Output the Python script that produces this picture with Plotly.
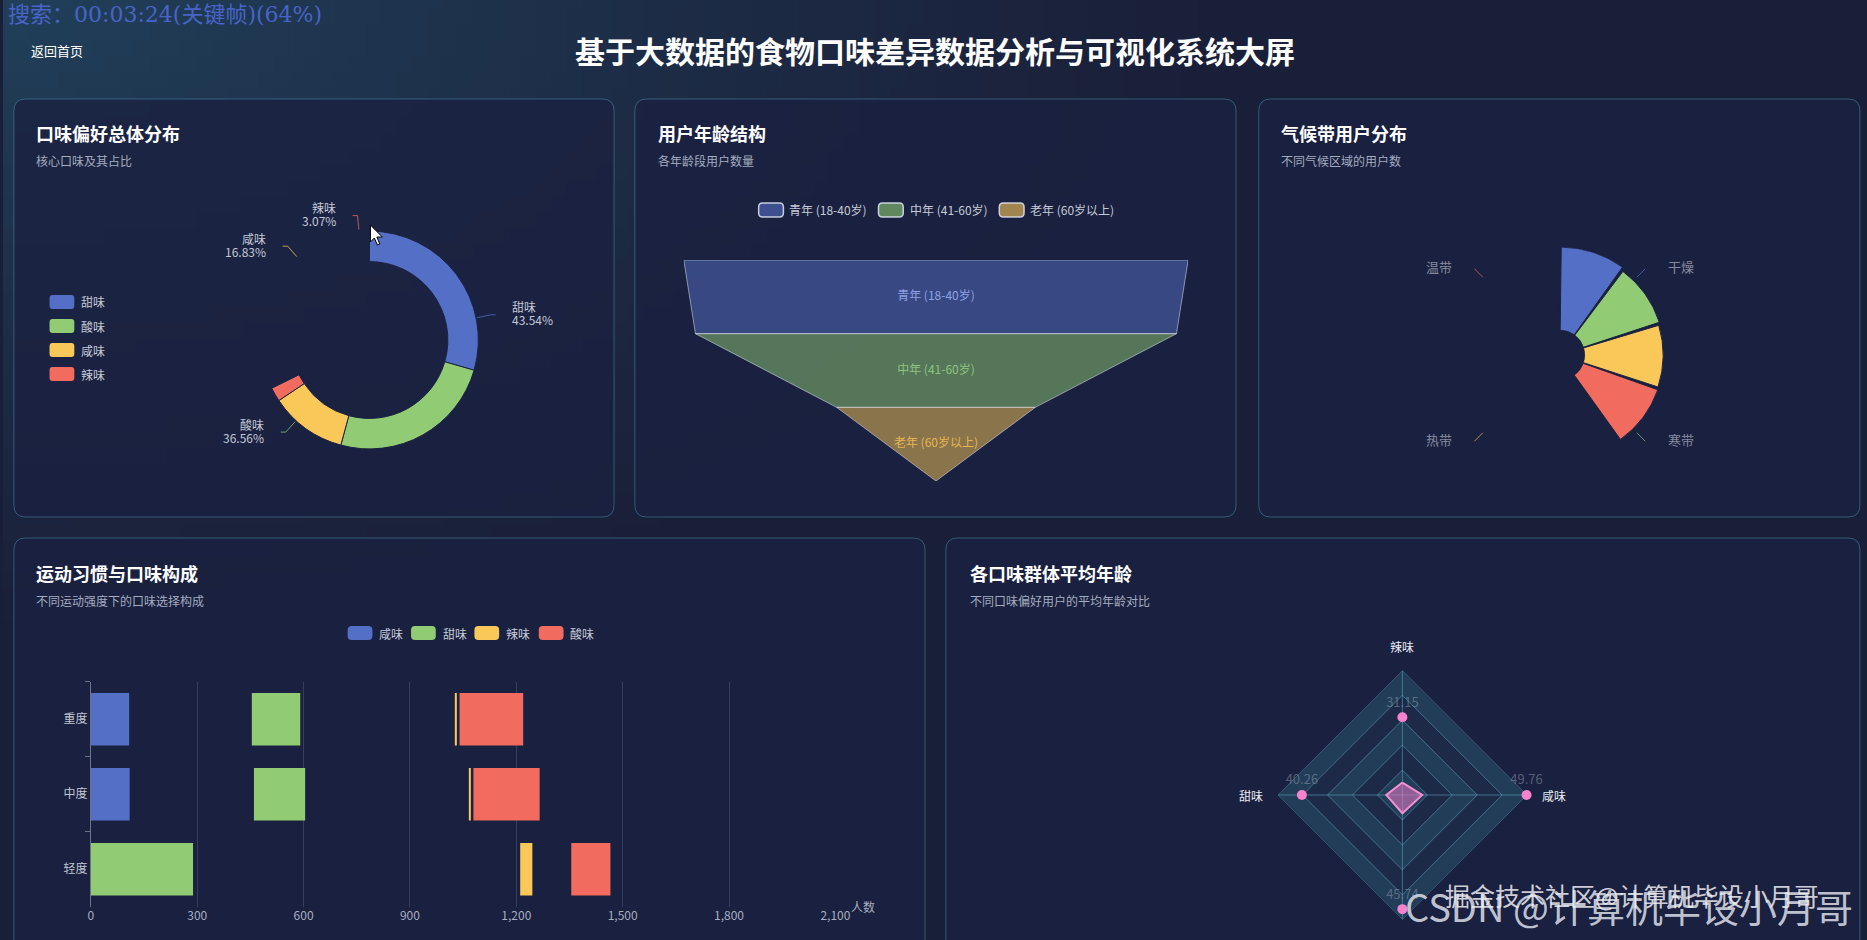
import math, base64, struct, zlib
import plotly.graph_objects as go

W, H = 1867, 940

# ---------------- data ----------------
taste_names = ["甜味", "酸味", "咸味", "辣味"]
taste_pct = [43.54, 36.56, 16.83, 3.07]
donut_anim = 0.677          # animation progress captured in the frame

age_groups = ["青年 (18-40岁)", "中年 (41-60岁)", "老年 (60岁以上)"]
age_users = [2333, 2225, 919]

climate_names = ["干燥", "寒带", "热带", "温带"]
climate_users = [1420, 1365, 1340, 1352]
climate_anim = 0.403

exercise_levels = ["轻度", "中度", "重度"]
bar_series = ["咸味", "甜味", "辣味", "酸味"]
salty_users = [0, 460, 454]
sweet_users = [1211, 607, 574]
spicy_users = [144, 12, 12]
sour_users = [464, 785, 754]
bar_anim = 0.238
bar_ticks = [0, 300, 600, 900, 1200, 1500, 1800, 2100]

radar_axes = ["辣味", "甜味", "酸味", "咸味"]
radar_ages = [31.15, 40.26, 45.74, 49.76]
radar_max = 50
radar_rings = [10, 20, 30, 40, 50]
radar_anim = 0.16

PALETTE = ["#5470c6", "#91cc75", "#fac858", "#f26b5f"]
FONT = "Noto Sans CJK SC"


def rgba(hx, a):
    hx = hx.lstrip("#")
    return "rgba(%d,%d,%d,%.3f)" % (int(hx[0:2], 16), int(hx[2:4], 16), int(hx[4:6], 16), a)


def X(x):
    return x / W


def Y(y):
    return 1 - y / H


def rrect_path(x0, y0, x1, y1, r):
    return (f"M{X(x0+r)},{Y(y0)} L{X(x1-r)},{Y(y0)} Q{X(x1)},{Y(y0)} {X(x1)},{Y(y0+r)} "
            f"L{X(x1)},{Y(y1-r)} Q{X(x1)},{Y(y1)} {X(x1-r)},{Y(y1)} L{X(x0+r)},{Y(y1)} "
            f"Q{X(x0)},{Y(y1)} {X(x0)},{Y(y1-r)} L{X(x0)},{Y(y0+r)} Q{X(x0)},{Y(y0)} {X(x0+r)},{Y(y0)} Z")


def poly_path(pts, close=False):
    s = "M" + " L".join(f"{X(a)},{Y(b)}" for a, b in pts)
    return s + (" Z" if close else "")


shapes, annotations = [], []


def ann(x, y, text, size=12, color="#c5cad6", xanchor="left", family=FONT, yanchor="middle"):
    annotations.append(dict(x=X(x), y=Y(y), xref="paper", yref="paper", text=text, showarrow=False,
                            xanchor=xanchor, yanchor=yanchor,
                            font=dict(size=size, color=color, family=family)))


# ---------------- background gradient image ----------------
def make_png(w, h, fn):
    raw = bytearray()
    for j in range(h):
        raw.append(0)
        for i in range(w):
            raw.extend(fn(i, j))
    def chunk(tag, data):
        return struct.pack(">I", len(data)) + tag + data + struct.pack(">I", zlib.crc32(tag + data) & 0xffffffff)
    return (b"\x89PNG\r\n\x1a\n" + chunk(b"IHDR", struct.pack(">IIBBBBB", w, h, 8, 2, 0, 0, 0))
            + chunk(b"IDAT", zlib.compress(bytes(raw))) + chunk(b"IEND", b""))


navy, teal = (26, 31, 57), (33, 64, 90)


def bg_pix(i, j, w=120, h=60):
    xx = (i + 0.5) / w * W
    yy = (j + 0.5) / h * H
    d = math.sqrt((xx / 1250) ** 2 + (yy / 650) ** 2)
    t = max(0.0, 1 - d) ** 1.2
    return bytes(int(round(navy[k] + (teal[k] - navy[k]) * t)) for k in range(3))


bg_uri = "data:image/png;base64," + base64.b64encode(make_png(120, 60, bg_pix)).decode()

# ---------------- panels ----------------
for (x0, y0, x1, y1) in [(11, 99, 617, 517), (638, 99, 1245, 517), (1268, 99, 1875, 517),
                         (11, 538, 931, 965), (952, 538, 1875, 965)]:
    shapes.append(dict(type="path", xref="paper", yref="paper", path=rrect_path(x0, y0, x1, y1, 12),
                       fillcolor="rgba(27,33,65,0.82)", line=dict(color="rgba(86,160,190,0.45)", width=1),
                       layer="below"))

# header texts
ann(3, 15, "搜索：00:03:24(关键帧)(64%)", 22, "#4864c8", family="DejaVu Serif, " + FONT)
ann(26, 50, "返回首页", 13, "#ffffff")
ann(941, 50, "<b>基于大数据的食物口味差异数据分析与可视化系统大屏</b>", 30, "#ffffff", xanchor="center")

for (tx, ty, t, s) in [(31, 133, "口味偏好总体分布", "核心口味及其占比"),
                       (659, 133, "用户年龄结构", "各年龄段用户数量"),
                       (1288, 133, "气候带用户分布", "不同气候区域的用户数"),
                       (31, 573, "运动习惯与口味构成", "不同运动强度下的口味选择构成"),
                       (974, 573, "各口味群体平均年龄", "不同口味偏好用户的平均年龄对比")]:
    ann(tx, ty, "<b>%s</b>" % t, 18, "#ffffff")
    ann(tx, ty + 27, s, 12, "#a3acbf")

traces = []

# ---------------- donut ----------------
cx, cy, R = 370, 340, 110
gap = sum(taste_pct) * (1 / donut_anim - 1)
traces.append(go.Pie(values=taste_pct + [gap], labels=taste_names + [" "], hole=0.72, sort=False,
                     direction="clockwise", rotation=0, textinfo="none", hoverinfo="skip",
                     marker=dict(colors=PALETTE + ["rgba(0,0,0,0)"],
                                 line=dict(color=["#1b2242"] * 4 + ["rgba(0,0,0,0)"], width=[1, 1, 1, 1, 0])),
                     domain=dict(x=[X(cx - R), X(cx + R)], y=[Y(cy + R), Y(cy - R)]), showlegend=False))
tot = sum(taste_pct)
cum = 0
for i, (nm, pc) in enumerate(zip(taste_names, taste_pct)):
    f = pc / tot
    a = math.radians((cum + f / 2) * 360)
    cum += f
    s, c = math.sin(a), math.cos(a)
    side = 1 if s >= 0 else -1
    p1 = (cx + (R + 1) * s, cy - (R + 1) * c)
    p2 = (cx + 125 * s, cy - 125 * c)
    p3 = (p2[0] + 5 * side, p2[1])
    shapes.append(dict(type="path", xref="paper", yref="paper", path=poly_path([p1, p2, p3]),
                       line=dict(color=rgba(PALETTE[i], 0.75), width=1)))
    xa = "left" if side > 0 else "right"
    ann(p3[0] + 15 * side, p2[1] - 8, nm, 12, "#c3c8d6", xanchor=xa)
    ann(p3[0] + 15 * side, p2[1] + 5, "%.2f%%" % pc, 12, "#c3c8d6", xanchor=xa)

for i, nm in enumerate(taste_names):
    yy = 302 + 24 * i
    shapes.append(dict(type="path", xref="paper", yref="paper", path=rrect_path(47, yy - 7, 72, yy + 7, 3),
                       fillcolor=PALETTE[i], line=dict(width=0)))
    ann(77, yy, nm, 12, "#c5cad6")

# cursor
cur = [(0, 0), (0, 17), (4, 13), (7, 20), (9.5, 19), (6.5, 12), (12, 12)]
shapes.append(dict(type="path", xref="paper", yref="paper",
                   path=poly_path([(371 + a, 225 + b) for a, b in cur], close=True),
                   fillcolor="#ffffff", line=dict(color="#000000", width=1)))

# ---------------- funnel ----------------
vmax = max(age_users)
for i, (nm, v) in enumerate(zip(age_groups, age_users)):
    nxt = age_users[i + 1] if i + 1 < len(age_users) else 0
    traces.append(go.Scatter(x=[-v / 2, v / 2, nxt / 2, -nxt / 2, -v / 2], y=[i, i, i + 1, i + 1, i],
                             mode="lines", fill="toself", fillcolor=rgba(PALETTE[i], 0.5),
                             line=dict(color="rgba(220,225,240,0.55)", width=1),
                             hoverinfo="skip", xaxis="x", yaxis="y", showlegend=False))
funnel_label_colors = ["#8ea2e6", "#8fc27c", "#e6b552"]
traces.append(go.Scatter(x=[0] * 3, y=[i + 0.5 for i in range(3)], mode="text", text=age_groups,
                         textfont=dict(size=12, color=funnel_label_colors, family=FONT),
                         hoverinfo="skip", xaxis="x", yaxis="y", showlegend=False))
for i, (sx, tx) in enumerate([(763, 792), (884, 914), (1006, 1035)]):
    shapes.append(dict(type="path", xref="paper", yref="paper", path=rrect_path(sx, 203, sx + 25, 217, 4),
                       fillcolor=rgba(PALETTE[i], 0.6), line=dict(color="rgba(225,230,242,0.85)", width=1.5)))
    ann(tx, 210, age_groups[i], 12, "#c5cad6")

# ---------------- climate rose ----------------
ccx, ccy, CR = 1572, 355, 109
slot = 360 * climate_anim / len(climate_users)
traces.append(go.Barpolar(r=climate_users, theta=[slot * (i + 0.5) for i in range(4)],
                          width=[slot - 1.5] * 4, marker=dict(color=PALETTE, line=dict(color="#1b2242", width=1)),
                          hoverinfo="skip", subplot="polar", showlegend=False))
for i, nm in enumerate(climate_names):
    a = math.radians((i + 0.5) * 90)
    s, c = math.sin(a), math.cos(a)
    side = 1 if s >= 0 else -1
    p1 = (ccx + 110 * s, ccy - 110 * c)
    p2 = (ccx + 122 * s, ccy - 122 * c)
    shapes.append(dict(type="path", xref="paper", yref="paper", path=poly_path([p1, p2]),
                       line=dict(color=rgba(PALETTE[i], 0.7), width=1)))
    ann(p2[0] + 21 * side, p2[1] - 2, nm, 13, "#858b9f", xanchor="left" if side > 0 else "right")

# ---------------- stacked bars (mid animation) ----------------
series_vals = [salty_users, sweet_users, spicy_users, sour_users]
base = [0] * 3
for k, (nm, vals) in enumerate(zip(bar_series, series_vals)):
    traces.append(go.Bar(y=exercise_levels, x=[v * bar_anim for v in vals], base=list(base), orientation="h",
                         marker=dict(color=PALETTE[k], line=dict(width=0)), hoverinfo="skip",
                         xaxis="x2", yaxis="y2", showlegend=False, name=nm))
    base = [b + v for b, v in zip(base, vals)]
for i, (sx, tx) in enumerate([(348, 378), (412, 442), (476, 506), (541, 570)]):
    shapes.append(dict(type="path", xref="paper", yref="paper", path=rrect_path(sx, 626, sx + 25, 640, 4),
                       fillcolor=PALETTE[i], line=dict(width=0)))
    ann(tx, 633, bar_series[i], 12, "#c5cad6")
ann(854, 906, "人数", 12, "#a8afc0")

# ---------------- radar ----------------
closed = radar_axes + [radar_axes[0]]
grid_c = "rgba(105,180,210,0.5)"
for k, rr in enumerate(sorted(radar_rings, reverse=True)):
    traces.append(go.Scatterpolar(r=[rr] * 5, theta=closed, mode="lines", fill="toself",
                                  fillcolor="#213d57" if k % 2 == 0 else "#1c2a48",
                                  line=dict(width=0, color="rgba(0,0,0,0)"), hoverinfo="skip",
                                  subplot="polar2", showlegend=False))
for rr in radar_rings:
    traces.append(go.Scatterpolar(r=[rr] * 5, theta=closed, mode="lines", line=dict(color=grid_c, width=1),
                                  hoverinfo="skip", subplot="polar2", showlegend=False))
for axn in radar_axes:
    traces.append(go.Scatterpolar(r=[0, radar_max], theta=[axn, axn], mode="lines",
                                  line=dict(color=grid_c, width=1), hoverinfo="skip",
                                  subplot="polar2", showlegend=False))
anim_r = [a * radar_anim for a in radar_ages]
traces.append(go.Scatterpolar(r=anim_r + [anim_r[0]], theta=closed, mode="lines", fill="toself",
                              fillcolor="rgba(236,120,200,0.55)", line=dict(color="#f38fd3", width=2),
                              hoverinfo="skip", subplot="polar2", showlegend=False))
traces.append(go.Scatterpolar(r=radar_ages, theta=radar_axes, mode="markers+text",
                              marker=dict(size=10, color="#f783cf"),
                              text=["%.2f" % a for a in radar_ages], textposition="top center",
                              textfont=dict(size=13, color="rgba(140,150,175,0.55)", family=FONT),
                              hoverinfo="skip", subplot="polar2", showlegend=False))
rcx, rcy, RR = 1413, 795, 126
ann(rcx, rcy - RR - 23, radar_axes[0], 12, "#e8ecf4", xanchor="center")
ann(rcx - RR - 13, rcy, radar_axes[1], 12, "#e8ecf4", xanchor="right")
ann(rcx, rcy + RR + 19, radar_axes[2], 12, "#e8ecf4", xanchor="center", yanchor="top")
ann(rcx + RR + 13, rcy, radar_axes[3], 12, "#e8ecf4", xanchor="left")

# watermarks
ann(1642, 905, "CSDN @计算机毕设小月哥", 38, "rgba(212,216,226,0.9)", xanchor="center")
ann(1645, 895, "掘金技术社区@计算机毕设小月哥", 25, "rgba(238,238,242,0.85)", xanchor="center")

fig = go.Figure(traces)
fig.update_layout(
    width=W, height=H, margin=dict(l=0, r=0, t=0, b=0), autosize=False,
    paper_bgcolor="#1a1f39", plot_bgcolor="rgba(0,0,0,0)", showlegend=False,
    font=dict(family=FONT, color="#c5cad6"),
    barmode="overlay", bargap=0.3,
    images=[dict(source=bg_uri, xref="paper", yref="paper", x=0, y=1, sizex=1, sizey=1,
                 sizing="stretch", layer="below", xanchor="left", yanchor="top")],
    shapes=shapes, annotations=annotations,
    xaxis=dict(domain=[X(687.4), X(1196.7)], range=[-vmax / 2, vmax / 2], visible=False, fixedrange=True),
    yaxis=dict(domain=[Y(481), Y(260)], range=[3, 0], visible=False, fixedrange=True),
    xaxis2=dict(domain=[X(88.7), X(840.5)], range=[0, 2100], anchor="y2", tickvals=bar_ticks,
                ticktext=["{:,}".format(t) for t in bar_ticks], showgrid=True,
                gridcolor="rgba(130,140,170,0.28)", gridwidth=1, zeroline=False, showline=False, ticks="",
                tickfont=dict(size=12, color="#a8afc0"), fixedrange=True),
    yaxis2=dict(domain=[Y(906.7), Y(681.7)], anchor="x2", type="category", categoryarray=exercise_levels,
                showline=True, linecolor="#6e7485", ticks="outside", tickson="boundaries", ticklen=5,
                tickcolor="#6e7485", showgrid=False, tickfont=dict(size=12, color="#c0c6d2"), fixedrange=True),
    polar=dict(domain=dict(x=[X(ccx - CR), X(ccx + CR)], y=[Y(ccy + CR), Y(ccy - CR)]), hole=25 / CR,
               bgcolor="rgba(0,0,0,0)",
               radialaxis=dict(range=[0, max(climate_users)], visible=False),
               angularaxis=dict(visible=False, rotation=90, direction="clockwise")),
    polar2=dict(domain=dict(x=[X(rcx - RR), X(rcx + RR)], y=[Y(rcy + RR), Y(rcy - RR)]),
                bgcolor="rgba(0,0,0,0)", gridshape="linear",
                radialaxis=dict(range=[0, radar_max], visible=False),
                angularaxis=dict(type="category", categoryarray=radar_axes, rotation=90,
                                 direction="counterclockwise", visible=False)),
)

fig.write_html("out.html", config={"displayModeBar": False, "responsive": False},
               post_script="document.documentElement.style.overflow='hidden';"
                           "document.body.style.margin='0';document.body.style.overflow='hidden';")
